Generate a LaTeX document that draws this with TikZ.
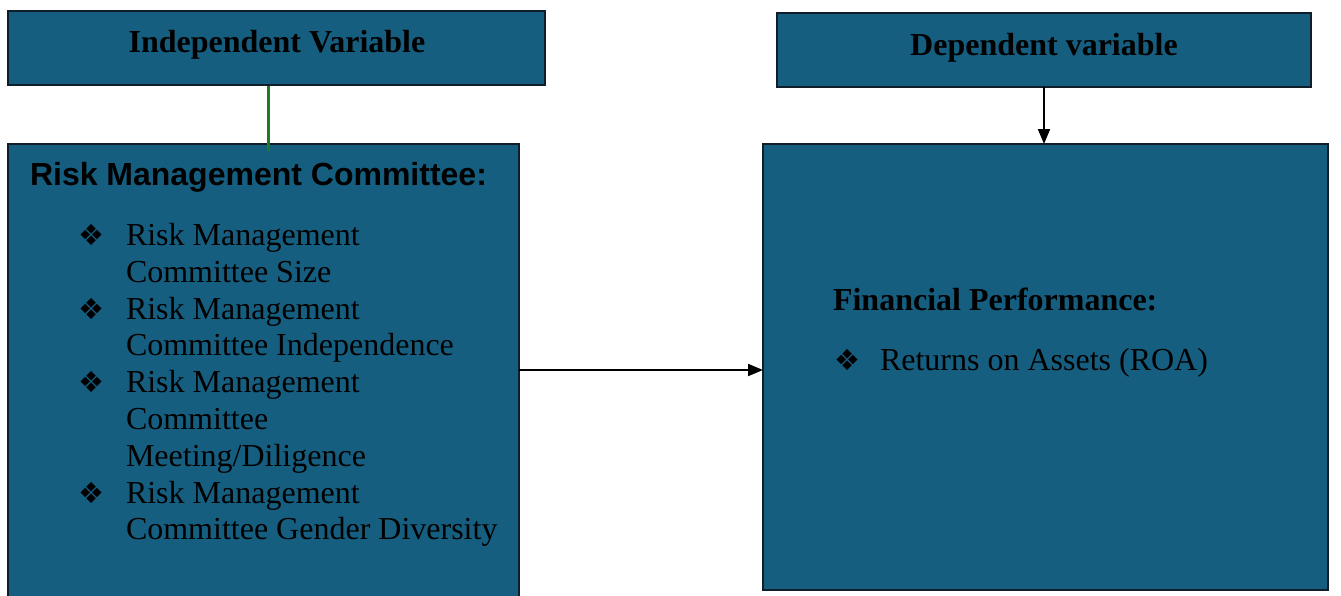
\documentclass[tikz,border=0pt]{standalone}
\usepackage{fontspec}
\setmainfont{Liberation Serif}
\newfontfamily\arialfont{Liberation Sans}
\newfontfamily\symfont{DejaVu Sans}
\usetikzlibrary{arrows.meta}
\definecolor{boxblue}{HTML}{165E80}
\definecolor{edgedark}{HTML}{0F1E28}
\definecolor{linkgreen}{HTML}{1E7A28}
\tikzset{
  box/.style={draw=edgedark, line width=2pt, fill=boxblue, anchor=north west, inner sep=0pt, outer sep=0pt},
  txt/.style={inner sep=0pt, outer sep=0pt, text=black, font=\fontsize{32}{36.7}\selectfont},
  lbl/.style={txt, anchor=base west},
  bul/.style={inner sep=0pt, outer sep=0pt, anchor=base west, font=\symfont\fontsize{29}{30}\selectfont},
  conn/.style={line width=2pt, black, -{Triangle[length=15pt,width=12pt]}},
}
\begin{document}
\begin{tikzpicture}[x=1pt,y=-1pt]
\useasboundingbox (0,0) rectangle (1341,595);
% boxes
\node[box, minimum width=537pt, minimum height=74pt] (iv) at (8,11) {};
\node[box, minimum width=511pt, minimum height=460pt] (rmc) at (8,144) {};
\node[box, minimum width=534pt, minimum height=74pt] (dv) at (777,13) {};
\node[box, minimum width=565pt, minimum height=446pt] (fp) at (763,144) {};
% connectors
\coordinate (gtop) at (268,86);
\coordinate (gbot) at (268,151);
\draw[linkgreen, line width=3pt] (gtop) -- (gbot);
\draw[conn] (dv.south) -- (dv.south |- fp.north);
\coordinate (a1) at (519,370);
\coordinate (a2) at (763,370);
\draw[conn] (a1) -- (a2);
% header texts
\node[txt, anchor=base, font=\bfseries\fontsize{32}{36.7}\selectfont] (tiv) at (277,52) {Independent Variable};
\node[txt, anchor=base, font=\bfseries\fontsize{32}{36.7}\selectfont] (tdv) at (1044,55) {Dependent variable};
% left box content
\node[lbl, font=\arialfont\bfseries\fontsize{32}{36.7}\selectfont] (trmc) at (30,185) {Risk Management Committee:};
\node[bul] (b1) at (78,245) {❖};
\node[bul] (b2) at (78,319) {❖};
\node[bul] (b3) at (78,392) {❖};
\node[bul] (b4) at (78,503) {❖};
\node[lbl] (l1) at (126,245) {Risk Management};
\node[lbl] (l2) at (126,282) {Committee Size};
\node[lbl] (l3) at (126,319) {Risk Management};
\node[lbl] (l4) at (126,355) {Committee Independence};
\node[lbl] (l5) at (126,392) {Risk Management};
\node[lbl] (l6) at (126,429) {Committee};
\node[lbl] (l7) at (126,466) {Meeting/Diligence};
\node[lbl] (l8) at (126,503) {Risk Management};
\node[lbl] (l9) at (126,539) {Committee Gender Diversity};
% right box content
\node[lbl, font=\bfseries\fontsize{32}{36.7}\selectfont] (tfp) at (833,310) {Financial Performance:};
\node[bul] (b5) at (834,370) {❖};
\node[lbl] (r1) at (880,370) {Returns on Assets (ROA)};
\end{tikzpicture}
\end{document}
